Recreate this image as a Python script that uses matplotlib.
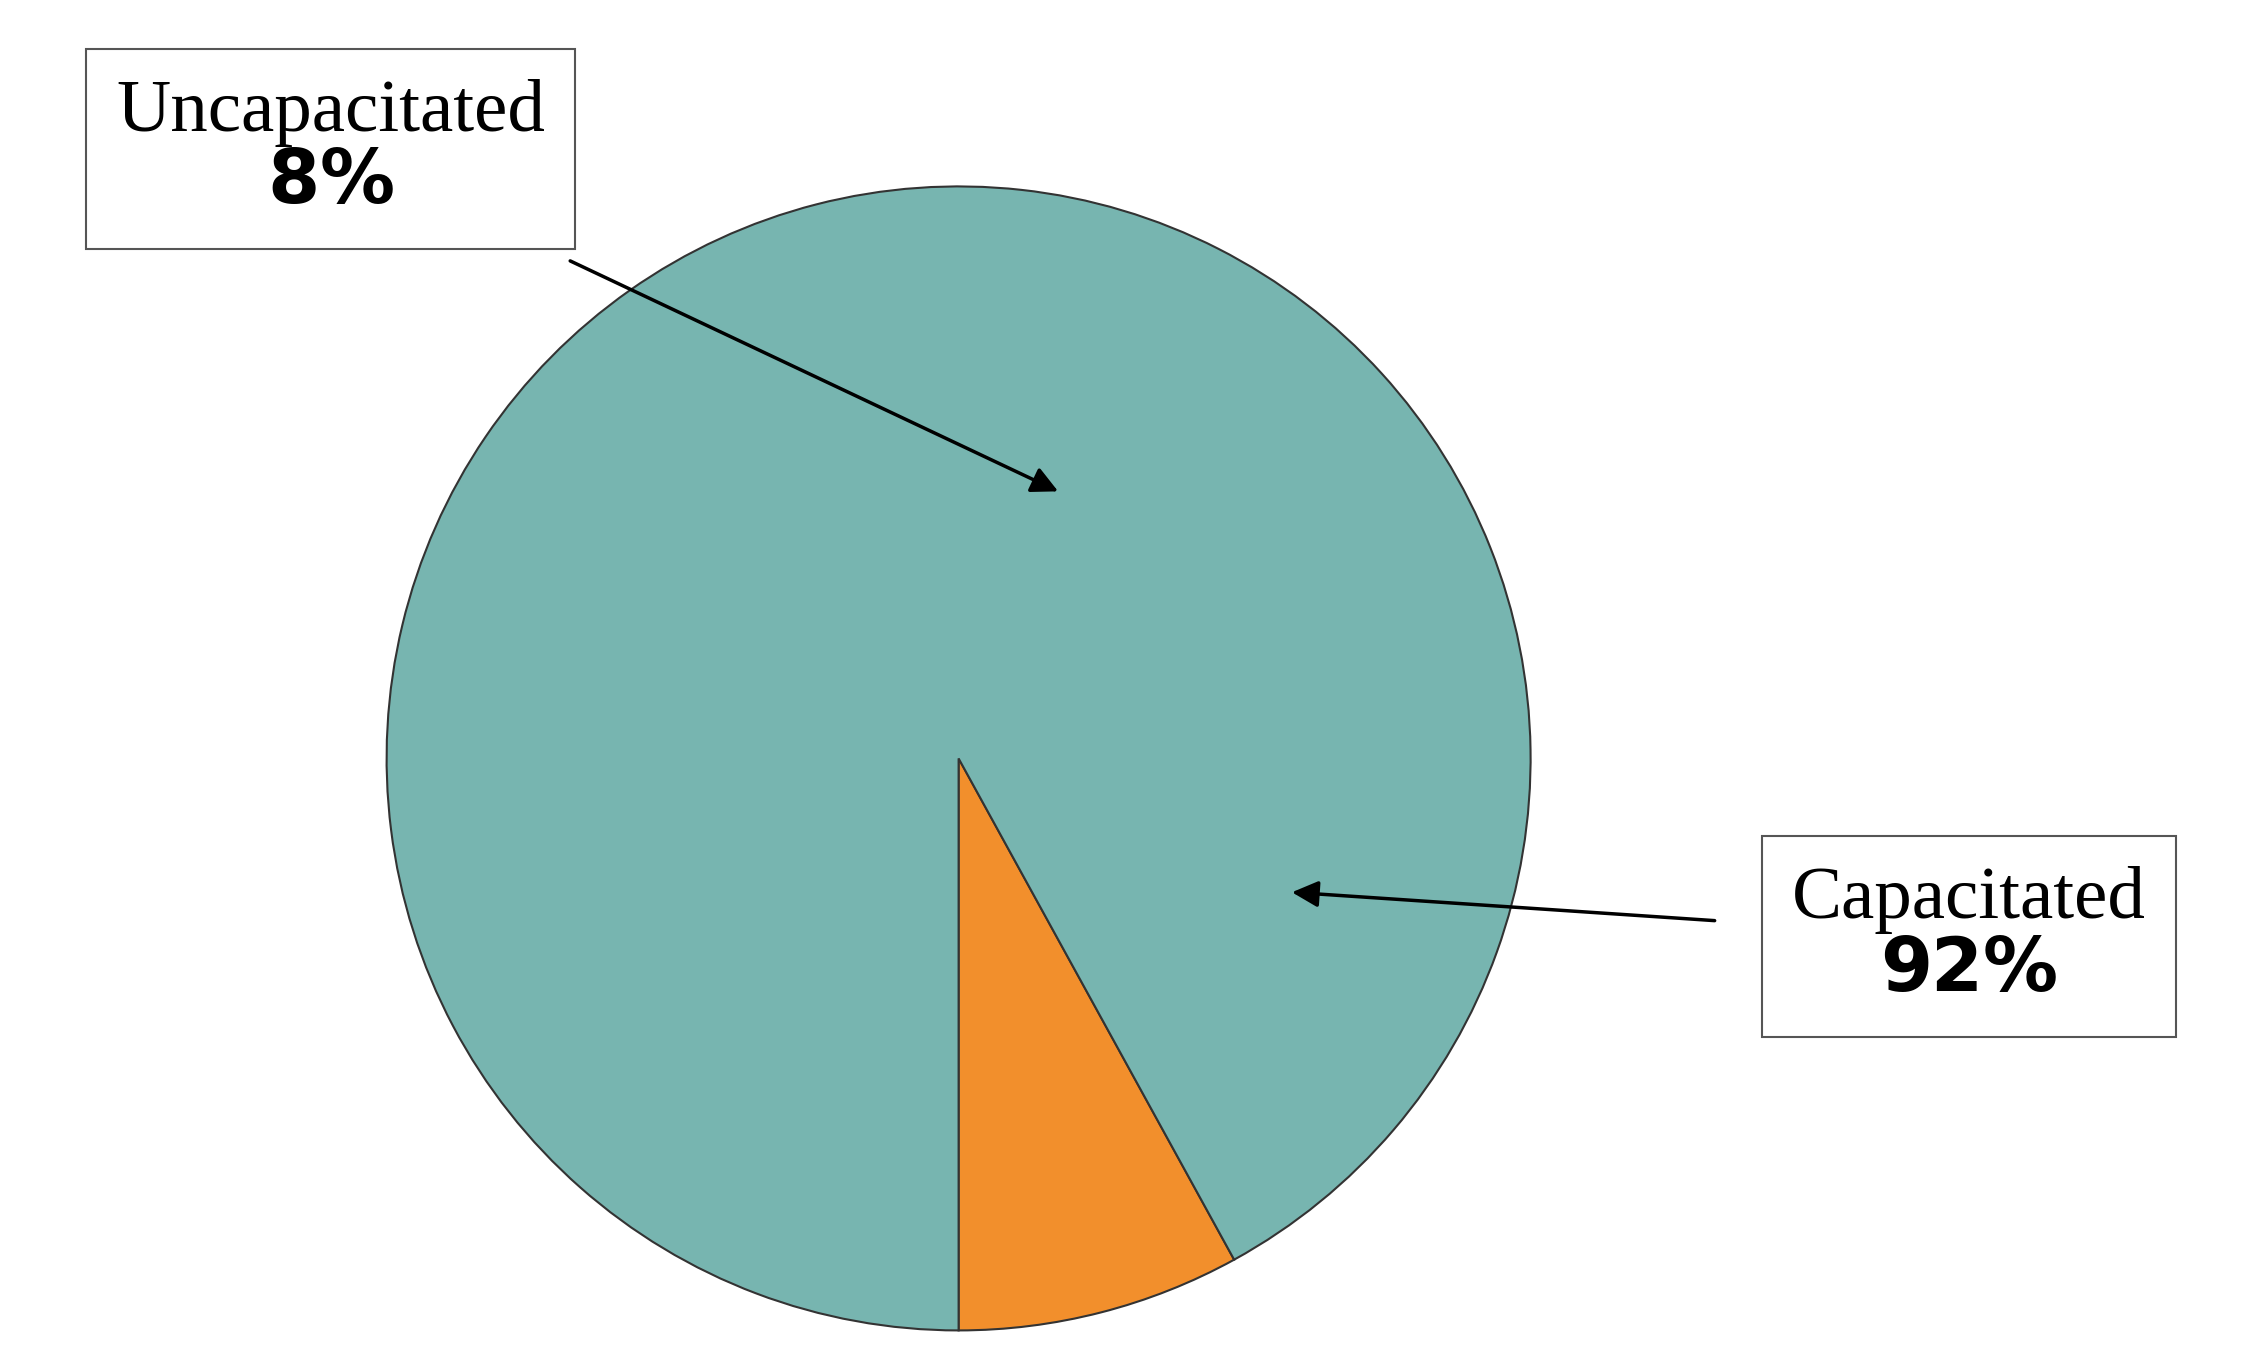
import matplotlib.pyplot as plt

labels = ["Uncapacitated", "Capacitated"]
shares = [8, 92]
colors = ["#f28f2c", "#77b5b0"]

fig = plt.figure(figsize=(22.42, 13.53), dpi=100)
ax = fig.add_axes([0, 0, 1, 1])
ax.set_xlim(0, 1560)
ax.set_ylim(940, 0)
ax.set_aspect("equal")
ax.axis("off")

wedges, _ = ax.pie(shares, colors=colors, startangle=90, counterclock=False,
                   center=(667, 527), radius=398,
                   wedgeprops=dict(edgecolor="#333333", linewidth=1.5))
ax.set_xlim(0, 1560)
ax.set_ylim(940, 0)

box = dict(boxstyle="square,pad=0.4", facecolor="white", edgecolor="#555555", linewidth=1.5)
font = dict(family=["Liberation Serif", "DejaVu Serif"], fontsize=54, ha="center", va="center",
            linespacing=1.1)

ax.text(230, 103, f"{labels[0]}\n$\\bf{{{shares[0]}\\%}}$", bbox=box, **font)
ax.text(1370, 651, f"{labels[1]}\n$\\bf{{{shares[1]}\\%}}$", bbox=box, **font)

arrow = dict(arrowstyle="-|>,head_length=1.6,head_width=0.8", color="black", linewidth=2.5)
ax.annotate("", xy=(738, 342), xytext=(395, 180), arrowprops=arrow)
ax.annotate("", xy=(897, 620), xytext=(1195, 640), arrowprops=arrow)

fig.savefig("out.png", dpi=100, facecolor="white")
